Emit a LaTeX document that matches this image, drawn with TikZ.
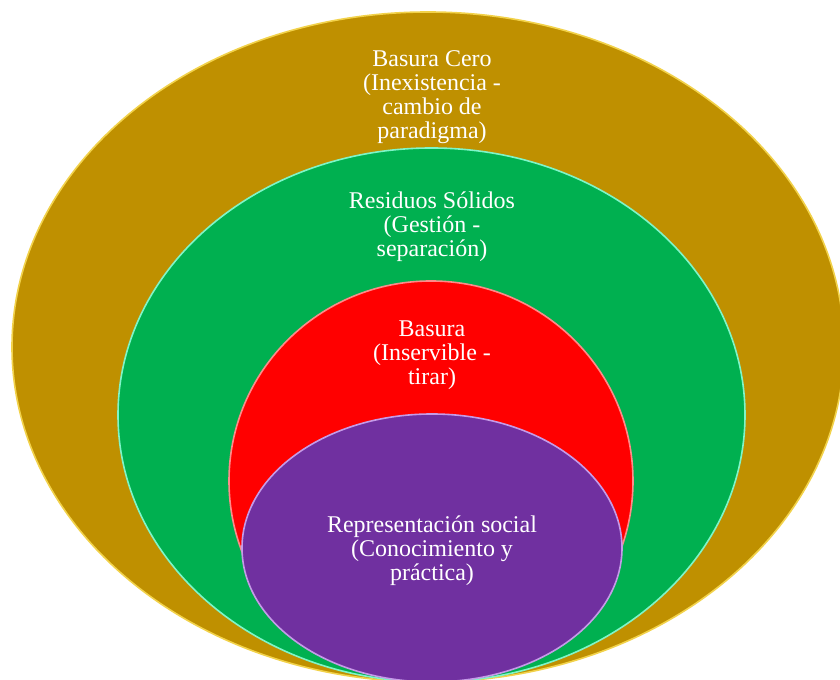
\documentclass[tikz,border=0pt]{standalone}
\usepackage{fontspec}
\setmainfont{Liberation Serif}
\usetikzlibrary{shapes.geometric}
\definecolor{cerogold}{HTML}{BF9000}
\definecolor{cerorim}{HTML}{F2D24A}
\definecolor{solidgreen}{HTML}{00B050}
\definecolor{solidrim}{HTML}{7FF5C8}
\definecolor{basured}{HTML}{FF0000}
\definecolor{baserim}{HTML}{FF8A8A}
\definecolor{reppurple}{HTML}{7030A0}
\definecolor{reprim}{HTML}{C59BE8}
\tikzset{
 layer/.style={ellipse,line width=1.2pt,inner sep=0pt},
 caption/.style={text=white,align=center,inner sep=0pt,anchor=north,font=\fontsize{18}{18}\selectfont}
}
\begin{document}
\begin{tikzpicture}[x=0.75pt,y=0.75pt]
\clip (0,0) rectangle (840,680);
\useasboundingbox (0,0) rectangle (840,680);
\fill[white] (0,0) rectangle (840,680);
% nested circles
\node [layer,fill=cerogold,draw=cerorim,minimum width=624pt,minimum height=502.5pt] (cero) at (428,333) {};
\node [layer,fill=solidgreen,draw=solidrim,minimum width=470.25pt,minimum height=400.5pt] (solidos) at (431.5,265) {};
\node [layer,fill=basured,draw=baserim,minimum width=303pt,minimum height=300pt] (basura) at (431,199) {};
\node [layer,fill=reppurple,draw=reprim,minimum width=285pt,minimum height=201pt] (social) at (432,132) {};
% labels
\node [caption] (cerotext) at (432,630) {Basura Cero\\(Inexistencia -\\cambio de\\paradigma)};
\node [caption] (solidostext) at (432,488) {Residuos Sólidos\\(Gestión -\\separación)};
\node [caption] (basuratext) at (432,359) {Basura\\(Inservible -\\tirar)};
\node [caption] (socialtext) at (432,164) {Representación social\\(Conocimiento y\\práctica)};
\end{tikzpicture}
\end{document}
